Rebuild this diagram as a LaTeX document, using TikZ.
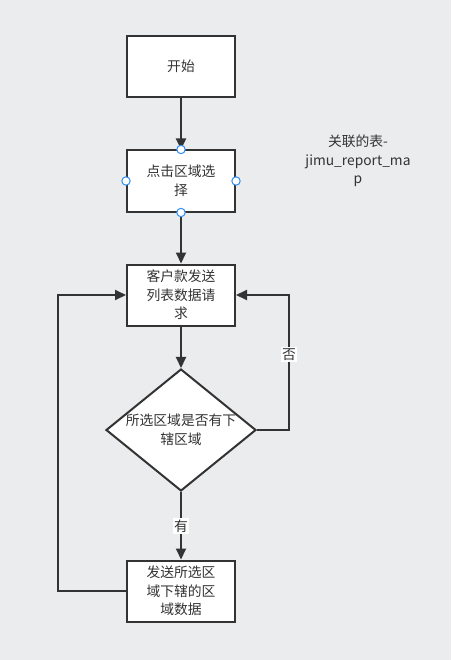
\documentclass[tikz,border=0pt]{standalone}
\usepackage{fontspec}
\setmainfont{Noto Sans CJK SC}
\usetikzlibrary{arrows.meta,shapes.geometric,positioning}
\definecolor{zeminGri}{HTML}{EBECEE}
\definecolor{cizgiKoyu}{HTML}{333333}
\definecolor{tutamacMavi}{HTML}{2F8EF4}

\begin{document}
\begin{tikzpicture}[x=1pt,y=-1pt,
  every node/.style={font=\fontsize{13.8}{18.5}\selectfont,text=cizgiKoyu},
  adim/.style={draw=cizgiKoyu,line width=2pt,fill=white,minimum width=108pt,minimum height=61pt,align=center,inner sep=2pt},
  karar/.style={draw=cizgiKoyu,line width=2pt,fill=white,diamond,minimum width=150pt,minimum height=122pt,inner sep=0pt},
  akis/.style={draw=cizgiKoyu,line width=2pt,-{Triangle[length=11pt,width=10pt]}},
  etiket/.style={fill=white,inner sep=1.5pt}]
\fill[zeminGri] (0,0) rectangle (451,660);
\node[adim] (basla) at (181,66.5) {开始};
\node[adim] (secim) at (181,181) {点击区域选\\择};
\node[adim] (istek) at (181,295) {客户款发送\\列表数据请\\求};
\node[karar] (kontrol) at (181,430) {};
\node[align=center] (kontrolYazi) at (kontrol) {所选区域是否有下\\辖区域};
\node[adim] (gonder) at (181,591) {发送所选区\\域下辖的区\\域数据};
\node[align=center] (not) at (358,161) {关联的表-\\jimu\_report\_ma\\p};
\coordinate (sagDon) at (289,430);
\coordinate (solDon) at (58,591);
\draw[akis] (basla) -- (secim);
\draw[akis] (secim) -- (istek);
\draw[akis] (istek) -- (kontrol);
\draw[akis] (kontrol) -- node[etiket] {有} (gonder);
\draw[akis] (kontrol.east) -- (sagDon) |- node[etiket,pos=0.28] {否} (istek.east);
\draw[akis] (gonder.west) -- (solDon) |- (istek.west);
\foreach \yon in {north,south,east,west}
  \draw[tutamacMavi,fill=white,line width=1pt] (secim.\yon) circle (4.2pt);
\end{tikzpicture}
\end{document}
